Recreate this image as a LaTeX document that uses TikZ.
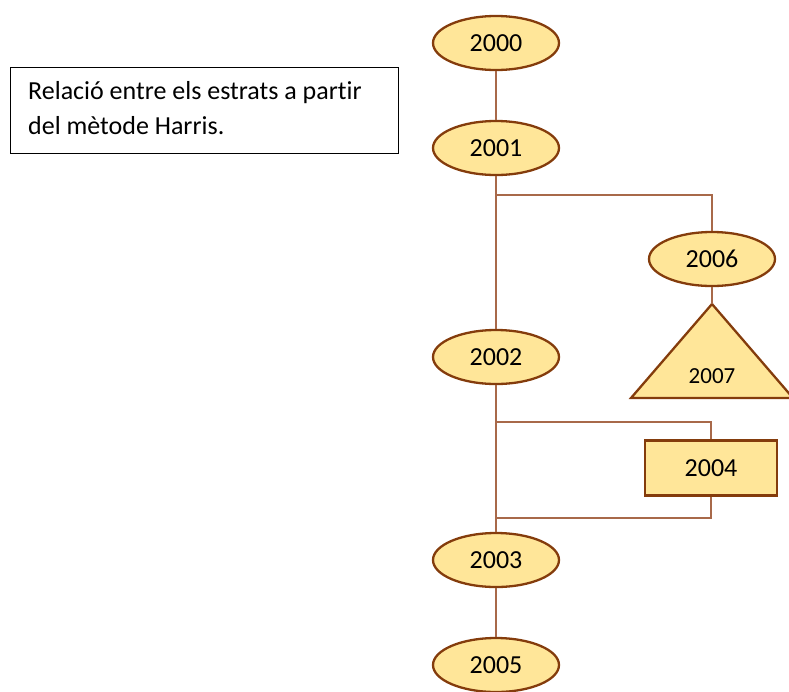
\documentclass[tikz,border=0pt]{standalone}
\usepackage{fontspec}
\setmainfont[Ligatures=NoCommon]{Carlito}
\usepackage{tikz}
\usetikzlibrary{shapes.geometric,positioning,calc}
\definecolor{strfill}{HTML}{FFE699}
\definecolor{strborder}{HTML}{843C0C}
\definecolor{strline}{HTML}{A8694A}

\begin{document}
\begin{tikzpicture}[x=1pt, y=-1pt,
  estrat/.style={ellipse, draw=strborder, fill=strfill, line width=2.3pt,
                 minimum width=126pt, minimum height=54pt, inner sep=0pt,
                 font=\fontsize{26}{30}\selectfont},
  caixa/.style={rectangle, draw=strborder, fill=strfill, line width=2.3pt,
                minimum width=132pt, minimum height=55pt, inner sep=0pt,
                font=\fontsize{26}{30}\selectfont},
  nota/.style={rectangle, draw=black, line width=0.9pt, minimum width=388pt,
               minimum height=86pt, inner sep=0pt},
  line/.style={draw=strline, line width=1.4pt}
]
\useasboundingbox (0,0) rectangle (789,691);
% Caption
\node[nota] (nota) at (204,110) {};
\node[anchor=base west, align=left, inner sep=0pt,
      font=\fontsize{26}{35}\selectfont] (caption) at (28,134)
  {Relació entre els estrats a partir\\del mètode Harris.};

% Strata
\node[estrat] (e2000) at (496,43)  {2000};
\node[estrat] (e2001) at (496,148) {2001};
\node[estrat] (e2002) at (496,357) {2002};
\node[estrat] (e2003) at (496,560) {2003};
\node[estrat] (e2005) at (496,665) {2005};
\node[estrat] (e2006) at (712,259) {2006};
\node[caixa]  (e2004) at (711,468) {2004};

% Triangle
\coordinate (apex) at (712,304);
\coordinate (basel) at (631,398);
\coordinate (baser) at (793,398);
\draw[draw=strborder, fill=strfill, line width=2.3pt, line join=miter]
  (apex) -- (basel) -- (baser) -- cycle;
\node[font=\fontsize{23}{27}\selectfont] (e2007) at (712,376) {2007};

% Relations
\coordinate (b1) at (496,195);
\coordinate (b2) at (496,422);
\coordinate (b3) at (496,518);
\draw[line] (e2000) -- (e2001);
\draw[line] (e2001) -- (e2002);
\draw[line] (b1) -| (e2006.north);
\draw[line] (e2006) -- (apex);
\draw[line] (e2002) -- (e2003);
\draw[line] (b2) -| (e2004.north);
\draw[line] (e2004.south) |- (b3);
\draw[line] (e2003) -- (e2005);
\end{tikzpicture}
\end{document}
